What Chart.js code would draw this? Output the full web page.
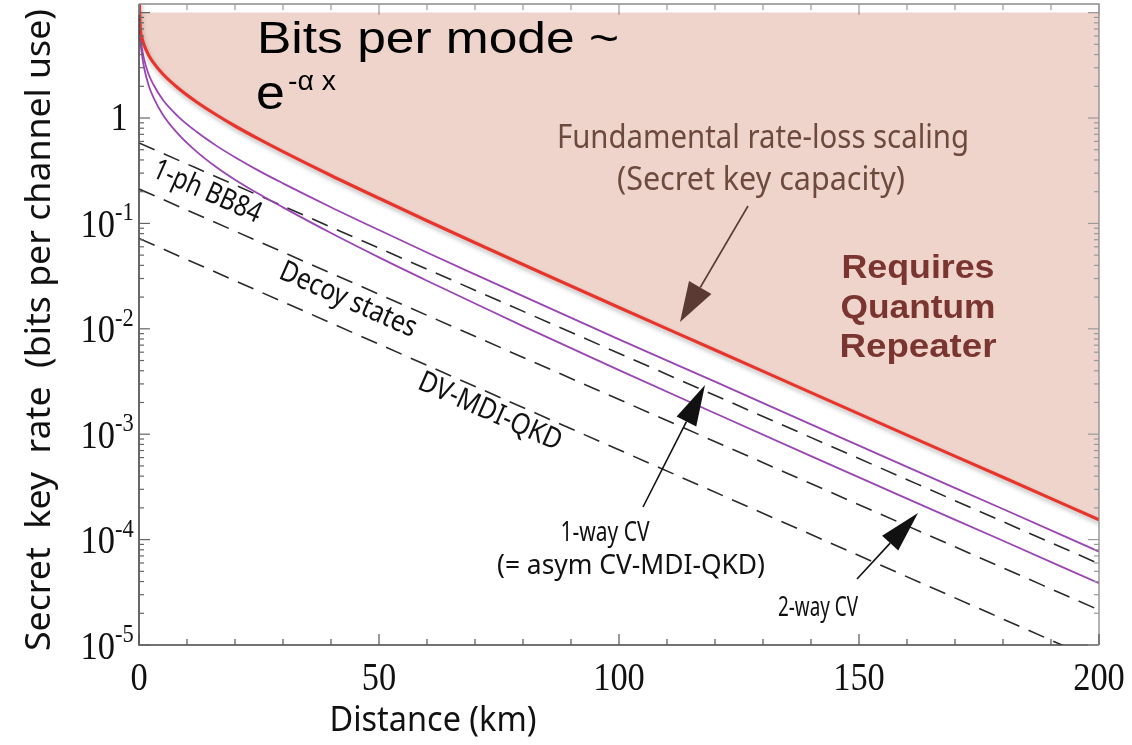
<!DOCTYPE html>
<html><head><meta charset="utf-8">
<script src="https://cdn.jsdelivr.net/npm/chart.js@4/dist/chart.umd.min.js"></script>
<style>html,body{margin:0;padding:0;background:#fff;overflow:hidden}canvas{display:block}</style>
</head><body>
<canvas id="c" width="1132" height="745"></canvas>
<script>
// ---- data ----
const distKm       = [0.05, 0.25, 0.6, 1, 2, 3, 5, 8, 12, 16, 20, 25, 30, 40, 50, 60, 70, 80, 100, 120, 140, 160, 180, 200];
const capacityRate = [13, 7.2, 5.8, 5.0, 3.95, 3.35, 2.6, 1.95, 1.42, 1.08, 0.84, 0.63, 0.48, 0.285, 0.173, 0.106, 0.0655, 0.0408, 0.0159, 0.0063, 0.00248, 0.00098, 0.00039, 0.000154];
const cvUpperRate  = [13, 6.5, 4.65, 3.7, 2.6, 2.08, 1.48, 1.05, 0.74, 0.55, 0.424, 0.315, 0.24, 0.1425, 0.0865, 0.053, 0.0328, 0.0204, 0.00795, 0.00315, 0.00124, 0.00049, 0.000195, 0.000077];
const cvLowerRate  = [13, 6.1, 4.05, 3.1, 2.05, 1.57, 1.07, 0.72, 0.48, 0.345, 0.26, 0.19, 0.142, 0.081, 0.0476, 0.0286, 0.0174, 0.0106, 0.00405, 0.00158, 0.00062, 0.000245, 0.0000975, 0.0000385];
const dvKm         = [0, 200];
const bb84Rate     = [0.58, 0.000059];
const decoyRate    = [0.212, 0.0000215];
const mdiRate      = [0.072, 0.000007];
const xTickValues  = [0, 50, 100, 150, 200];
const yTickExps    = [0, -1, -2, -3, -4, -5];

const pts = (xs, ys) => xs.map((x, i) => ({x: x, y: ys[i]}));

function drawText(ctx, s, x, y, o) {
  ctx.save();
  ctx.font = (o.weight || 'normal') + ' ' + o.size + 'px ' + o.family;
  ctx.fillStyle = o.color || '#000';
  ctx.textBaseline = o.baseline || 'alphabetic';
  ctx.textAlign = 'left';
  const w = ctx.measureText(s).width;
  let sx = o.sx || 1;
  if (o.width) sx = o.width / w;
  ctx.translate(x, y);
  if (o.angle) ctx.rotate(o.angle * Math.PI / 180);
  ctx.scale(sx, 1);
  const off = o.align === 'center' ? -w / 2 : (o.align === 'right' ? -w : 0);
  ctx.fillText(s, off, 0);
  ctx.restore();
}

function arrow(ctx, x1, y1, x2, y2, color, lw, hl, hw) {
  const a = Math.atan2(y2 - y1, x2 - x1);
  const bx = x2 - hl * Math.cos(a), by = y2 - hl * Math.sin(a);
  ctx.save();
  ctx.strokeStyle = color; ctx.fillStyle = color; ctx.lineWidth = lw;
  ctx.beginPath(); ctx.moveTo(x1, y1); ctx.lineTo(bx, by); ctx.stroke();
  ctx.beginPath();
  ctx.moveTo(x2, y2);
  ctx.lineTo(bx + hw / 2 * Math.sin(a), by - hw / 2 * Math.cos(a));
  ctx.lineTo(bx - hw / 2 * Math.sin(a), by + hw / 2 * Math.cos(a));
  ctx.closePath(); ctx.fill();
  ctx.restore();
}

const shadowPlugin = {
  id: 'redShadow',
  beforeDatasetDraw(chart, args) {
    if (args.index === 0) {
      const ctx = chart.ctx; ctx.save();
      ctx.shadowColor = 'rgba(90,90,90,0.45)';
      ctx.shadowBlur = 4; ctx.shadowOffsetX = 1; ctx.shadowOffsetY = 3;
    }
  },
  afterDatasetDraw(chart, args) {
    if (args.index === 0) chart.ctx.restore();
  }
};

const decorPlugin = {
  id: 'decor',
  afterDraw(chart) {
    const ctx = chart.ctx, a = chart.chartArea, xs = chart.scales.x, ys = chart.scales.y;
    const serif = '"Liberation Serif", "DejaVu Serif", serif';
    const sans = '"Noto Sans", "Open Sans", sans-serif';
    const helv = '"Liberation Sans", Arial, sans-serif';
    // frame
    ctx.save();
    ctx.strokeStyle = '#8a8a8a'; ctx.lineWidth = 1.3;
    ctx.beginPath();
    ctx.moveTo(a.left, a.top); ctx.lineTo(a.right, a.top); ctx.lineTo(a.right, a.bottom);
    ctx.stroke();
    ctx.strokeStyle = '#444'; ctx.lineWidth = 1.6;
    ctx.beginPath();
    ctx.moveTo(a.left, a.top); ctx.lineTo(a.left, a.bottom); ctx.lineTo(a.right, a.bottom);
    ctx.stroke();
    // x ticks
    ctx.lineWidth = 1.2;
    for (let v = 0; v <= 200; v += 10) {
      const px = xs.getPixelForValue(v);
      const len = v % 50 === 0 ? 11 : 6;
      ctx.strokeStyle = '#555';
      ctx.beginPath(); ctx.moveTo(px, a.bottom); ctx.lineTo(px, a.bottom - len); ctx.stroke();
      ctx.strokeStyle = '#999';
      ctx.beginPath(); ctx.moveTo(px, a.top); ctx.lineTo(px, a.top + len); ctx.stroke();
    }
    // y ticks (log)
    for (let d = -5; d <= 1; d++) {
      for (let m = 1; m <= 9; m++) {
        const v = m * Math.pow(10, d);
        if (v < ys.min * 0.999 || v > ys.max) continue;
        const py = ys.getPixelForValue(v);
        const len = m === 1 ? 11 : 5;
        ctx.strokeStyle = '#666';
        ctx.beginPath(); ctx.moveTo(a.left, py); ctx.lineTo(a.left + len, py); ctx.stroke();
        ctx.strokeStyle = '#999';
        ctx.beginPath(); ctx.moveTo(a.right, py); ctx.lineTo(a.right - len, py); ctx.stroke();
      }
    }
    ctx.restore();
    // x tick labels
    xTickValues.forEach(v => {
      drawText(ctx, String(v), xs.getPixelForValue(v), 690, {size: 40, family: serif, align: 'center', sx: 0.86, color: '#111'});
    });
    // y tick labels
    yTickExps.forEach(e => {
      const py = ys.getPixelForValue(Math.pow(10, e));
      if (e === 0) {
        drawText(ctx, '1', 119, py + 1, {size: 40, family: serif, align: 'center', baseline: 'middle', sx: 0.86, color: '#111'});
      } else {
        drawText(ctx, '10', 115, py + 3, {size: 40, family: serif, align: 'right', baseline: 'middle', sx: 0.86, color: '#111'});
        drawText(ctx, '-' + Math.abs(e), 115, py - 3, {size: 25, family: serif, align: 'left', baseline: 'alphabetic', sx: 0.9, color: '#111'});
      }
    });
    // axis titles
    drawText(ctx, 'Distance (km)', 433, 731, {size: 34, family: sans, align: 'center', width: 207, color: '#111'});
    drawText(ctx, 'Secret  key  rate  (bits per channel use)', 40, 330, {size: 34, family: sans, align: 'center', baseline: 'middle', angle: -90, width: 642, color: '#111'});
    // big title
    drawText(ctx, 'Bits per mode ~', 257, 53, {size: 45, family: helv, width: 362, color: '#000'});
    drawText(ctx, 'e', 256, 109, {size: 48, family: helv, sx: 1.08, color: '#000'});
    drawText(ctx, '-\u03B1 x', 288, 90, {size: 27, family: helv, sx: 1.05, color: '#000'});
    // capacity annotation
    drawText(ctx, 'Fundamental rate-loss scaling', 763, 148, {size: 33, family: sans, align: 'center', width: 412, color: '#6e4a3e'});
    drawText(ctx, '(Secret key capacity)', 761, 190, {size: 33, family: sans, align: 'center', width: 288, color: '#6e4a3e'});
    arrow(ctx, 748, 206, 680, 322, '#5a3a32', 1.6, 40, 26);
    // repeater text
    ['Requires', 'Quantum', 'Repeater'].forEach((s, i) => {
      drawText(ctx, s, 918, 278 + i * 39.5, {size: 34, family: helv, weight: 'bold', align: 'center', width: [153, 155, 157][i], color: '#7a3530'});
    });
    // CV annotations
    drawText(ctx, '1-way CV', 605, 541, {size: 28, family: sans, align: 'center', width: 89, color: '#111'});
    drawText(ctx, '(= asym CV-MDI-QKD)', 631, 574, {size: 28, family: sans, align: 'center', width: 268, color: '#111'});
    arrow(ctx, 643, 507, 705, 385, '#111', 1.6, 41, 22);
    drawText(ctx, '2-way CV', 818, 616, {size: 28, family: sans, align: 'center', width: 80, color: '#111'});
    arrow(ctx, 857, 579, 918, 513, '#111', 1.6, 41, 22);
    // dashed line labels
    drawText(ctx, '1-ph BB84', 207, 192, {size: 29, family: sans, align: 'center', baseline: 'middle', angle: 24, width: 116, color: '#111'});
    drawText(ctx, 'Decoy states', 348, 300, {size: 29, family: sans, align: 'center', baseline: 'middle', angle: 24, width: 147, color: '#111'});
    drawText(ctx, 'DV-MDI-QKD', 490, 412, {size: 29, family: sans, align: 'center', baseline: 'middle', angle: 24, width: 154, color: '#111'});
  }
};

const lineBase = {pointRadius: 0, fill: false, cubicInterpolationMode: 'monotone'};
const dashStyle = {borderColor: '#2a2a2a', borderWidth: 1.6, borderDash: [17, 10]};

new Chart(document.getElementById('c'), {
  type: 'line',
  data: {
    datasets: [
      Object.assign({}, lineBase, {label: 'Secret key capacity', data: pts(distKm, capacityRate), borderColor: '#e8342b', borderWidth: 3.2,
        fill: {value: 10}, backgroundColor: '#efd4cc'}),
      Object.assign({}, lineBase, {label: 'CV upper', data: pts(distKm, cvUpperRate), borderColor: '#9b45b4', borderWidth: 1.8}),
      Object.assign({}, lineBase, {label: 'CV lower', data: pts(distKm, cvLowerRate), borderColor: '#9b45b4', borderWidth: 1.8}),
      Object.assign({}, lineBase, dashStyle, {label: '1-ph BB84', data: pts(dvKm, bb84Rate)}),
      Object.assign({}, lineBase, dashStyle, {label: 'Decoy states', data: pts(dvKm, decoyRate)}),
      Object.assign({}, lineBase, dashStyle, {label: 'DV-MDI-QKD', data: pts(dvKm, mdiRate)})
    ]
  },
  options: {
    responsive: false,
    devicePixelRatio: 1,
    animation: false,
    layout: {padding: {top: 4, right: 33, left: 0, bottom: 0}},
    plugins: {legend: {display: false}, tooltip: {enabled: false}},
    scales: {
      x: {type: 'linear', min: 0, max: 200, ticks: {display: false}, grid: {display: false}, border: {display: false},
          afterFit: s => { s.height = 100; }},
      y: {type: 'logarithmic', min: 1e-5, max: 12.07, ticks: {display: false}, grid: {display: false}, border: {display: false},
          afterFit: s => { s.width = 139; }}
    }
  },
  plugins: [shadowPlugin, decorPlugin]
});
</script>
</body></html>
